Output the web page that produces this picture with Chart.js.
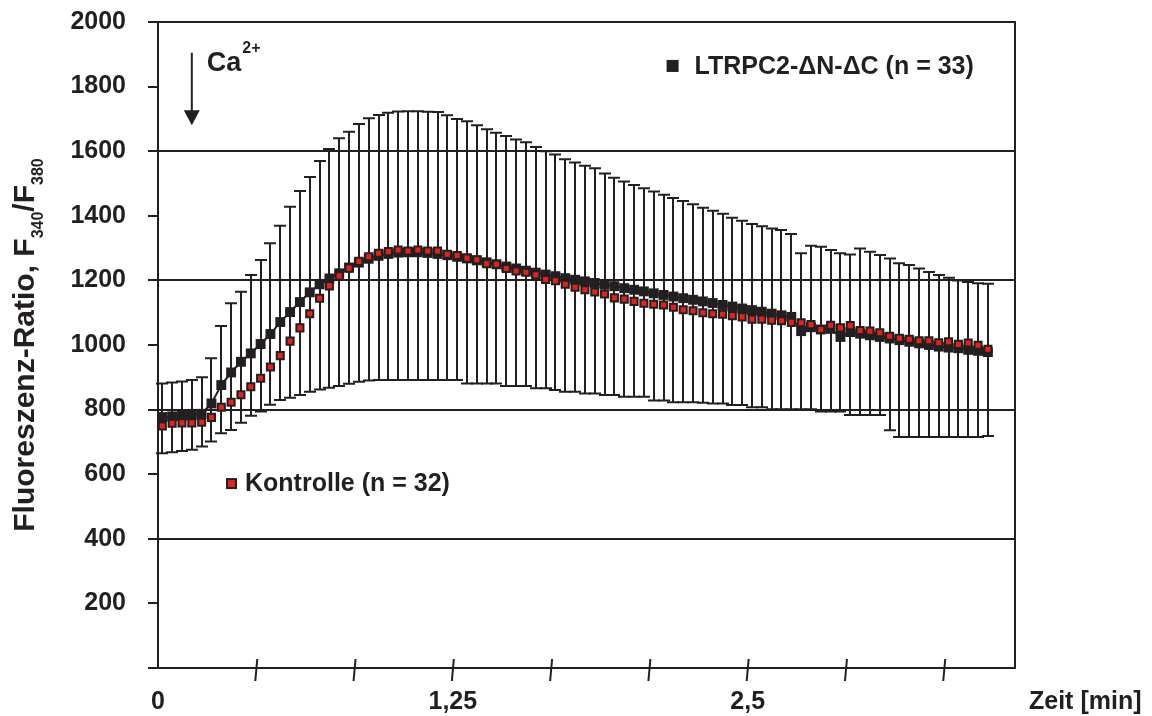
<!DOCTYPE html>
<html>
<head>
<meta charset="utf-8">
<script src="https://cdn.jsdelivr.net/npm/chart.js@4.4.0/dist/chart.umd.min.js"></script>
<style>
  html, body { margin: 0; padding: 0; background: #fff; }
  #chart { display: block; }
</style>
</head>
<body>
<canvas id="chart" width="1152" height="716"></canvas>
<script>
// Zeit in Sekunden (Achse wird in min beschriftet)
const zeit = [
  1.1, 3.6, 6.1, 8.6, 11.1, 13.6, 16.1, 18.6, 21.1, 23.6,
  26.1, 28.6, 31.1, 33.6, 36.1, 38.6, 41.1, 43.6, 46.1, 48.6,
  51.1, 53.6, 56.1, 58.6, 61.1, 63.6, 66.1, 68.6, 71.1, 73.6,
  76.1, 78.6, 81.1, 83.6, 86.1, 88.6, 91.1, 93.6, 96.1, 98.6,
  101.1, 103.6, 106.1, 108.6, 111.1, 113.6, 116.1, 118.6, 121.1, 123.6,
  126.1, 128.6, 131.1, 133.6, 136.1, 138.6, 141.1, 143.6, 146.1, 148.6,
  151.1, 153.6, 156.1, 158.6, 161.1, 163.6, 166.1, 168.6, 171.1, 173.6,
  176.1, 178.6, 181.1, 183.6, 186.1, 188.6, 191.1, 193.6, 196.1, 198.6,
  201.1, 203.6, 206.1, 208.6, 211.1
];

const kontrolle = [
  749, 758, 759, 759, 761, 776, 807, 823, 846, 871,
  897, 932, 967, 1012, 1053, 1097, 1145, 1183, 1214, 1238,
  1259, 1273, 1284, 1289, 1294, 1291, 1294, 1291, 1291, 1281,
  1277, 1269, 1264, 1252, 1250, 1237, 1229, 1225, 1217, 1203,
  1199, 1188, 1179, 1171, 1164, 1158, 1146, 1142, 1135, 1129,
  1126, 1124, 1117, 1109, 1106, 1100, 1097, 1095, 1091, 1087,
  1080, 1080, 1077, 1075, 1070, 1069, 1063, 1048, 1061, 1053,
  1060, 1045, 1043, 1038, 1027, 1021, 1018, 1013, 1013, 1007,
  1010, 1002, 1006, 999, 987
];

const ltrpc2 = [
  777, 779, 781, 783, 787, 819, 876, 915, 948, 974,
  1003, 1034, 1071, 1102, 1133, 1163, 1188, 1206, 1222, 1240,
  1255, 1267, 1276, 1282, 1286, 1287, 1287, 1285, 1282, 1278,
  1273, 1268, 1262, 1256, 1250, 1243, 1237, 1230, 1224, 1218,
  1213, 1207, 1202, 1197, 1192, 1187, 1182, 1176, 1171, 1166,
  1160, 1155, 1150, 1145, 1140, 1135, 1130, 1124, 1119, 1113,
  1108, 1103, 1097, 1092, 1087, 1043, 1055, 1048, 1050, 1025,
  1040, 1035, 1030, 1025, 1020, 1015, 1010, 1005, 1000, 995,
  992, 990, 985, 982, 978
];

// Enden der Fehlerbalken (LTRPC2)
const ltrpc2Oben = [
  881, 884, 887, 892, 900, 959, 1059, 1129, 1165, 1217,
  1263, 1315, 1369, 1428, 1477, 1520, 1570, 1607, 1640, 1660,
  1684, 1702, 1712, 1719, 1723, 1724, 1724, 1722, 1721, 1711,
  1700, 1693, 1680, 1668, 1657, 1647, 1636, 1628, 1613, 1600,
  1590, 1575, 1565, 1555, 1547, 1531, 1518, 1506, 1495, 1485,
  1475, 1465, 1455, 1446, 1436, 1425, 1416, 1406, 1394, 1385,
  1375, 1368, 1361, 1356, 1344, 1284, 1307, 1304, 1294, 1284,
  1280, 1299, 1289, 1279, 1268, 1253, 1248, 1237, 1226, 1217,
  1208, 1200, 1195, 1191, 1190
];
const ltrpc2Unten = [
  665, 668, 672, 676, 686, 701, 727, 737, 759, 781,
  794, 815, 830, 837, 845, 855, 862, 868, 873, 880,
  886, 890, 892, 892, 892, 892, 892, 892, 892, 892,
  892, 881, 881, 881, 881, 873, 873, 873, 866, 866,
  861, 855, 855, 850, 850, 845, 845, 840, 840, 840,
  828, 828, 823, 823, 823, 821, 819, 819, 814, 814,
  807, 807, 801, 801, 801, 801, 801, 794, 794, 794,
  783, 783, 783, 783, 736, 715, 715, 715, 715, 715,
  715, 715, 715, 715, 718
];

// Beschriftung der x-Ticks (alle 25 s)
const xTickLabels = ['0', '', '', '1,25', '', '', '2,5', '', ''];

const ink = '#231f20';
const rot = '#e3231b';
const schrift = '"Liberation Sans", Arial, Helvetica, sans-serif';

const rahmen = {
  id: 'rahmen',
  beforeDatasetsDraw(chart) {
    const {ctx, chartArea: a, scales: {x}} = chart;
    ctx.save();
    ctx.strokeStyle = ink;
    ctx.lineWidth = 2;
    // rechte Begrenzung
    ctx.beginPath();
    ctx.moveTo(a.right, a.top - 1);
    ctx.lineTo(a.right, a.bottom + 1);
    ctx.stroke();
    // x-Ticks, über die Achse hinweg
    x.ticks.forEach(t => {
      if (t.value === 0) return;
      const px = x.getPixelForValue(t.value);
      ctx.beginPath();
      ctx.moveTo(px + 1, a.bottom - 9);
      ctx.lineTo(px - 1, a.bottom + 13);
      ctx.stroke();
    });
    ctx.restore();
  }
};

const fehlerbalken = {
  id: 'fehlerbalken',
  beforeDatasetsDraw(chart) {
    const {ctx, scales: {x, y}} = chart;
    ctx.save();
    ctx.strokeStyle = ink;
    ctx.lineWidth = 2;
    zeit.forEach((t, i) => {
      const px = Math.round(x.getPixelForValue(t));
      const oben = y.getPixelForValue(ltrpc2Oben[i]);
      const unten = y.getPixelForValue(ltrpc2Unten[i]);
      ctx.beginPath();
      ctx.moveTo(px, oben);
      ctx.lineTo(px, unten);
      ctx.moveTo(px - 6, oben);
      ctx.lineTo(px + 6, oben);
      ctx.moveTo(px - 6, unten);
      ctx.lineTo(px + 6, unten);
      ctx.stroke();
    });
    ctx.restore();
  }
};

const texte = {
  id: 'texte',
  afterDraw(chart) {
    const {ctx, chartArea: a, scales: {x, y}} = chart;
    ctx.save();
    ctx.fillStyle = ink;
    ctx.strokeStyle = ink;

    // y-Achsentitel mit Indizes
    const teile = [
      {t: 'Fluoreszenz-Ratio, F', s: 30, dy: 0},
      {t: '340', s: 16, dy: 9},
      {t: '/F', s: 30, dy: 0},
      {t: '380', s: 16, dy: 9}
    ];
    let breite = 0;
    teile.forEach(p => {
      ctx.font = 'bold ' + p.s + 'px ' + schrift;
      p.w = ctx.measureText(p.t).width;
      breite += p.w;
    });
    ctx.translate(34, (a.top + a.bottom) / 2);
    ctx.rotate(-Math.PI / 2);
    ctx.textBaseline = 'alphabetic';
    let pos = -breite / 2;
    teile.forEach(p => {
      ctx.font = 'bold ' + p.s + 'px ' + schrift;
      ctx.fillText(p.t, pos, p.dy);
      pos += p.w;
    });
    ctx.setTransform(1, 0, 0, 1, 0, 0);

    // x-Achsentitel
    ctx.font = 'bold 25px ' + schrift;
    ctx.textBaseline = 'middle';
    ctx.fillText('Zeit [min]', a.right + 14, a.bottom + 34);

    // Ca2+ Pfeil
    const px = x.getPixelForValue(8.6);
    const oben = y.getPixelForValue(1905);
    const spitze = y.getPixelForValue(1680);
    ctx.lineWidth = 2;
    ctx.beginPath();
    ctx.moveTo(px, oben);
    ctx.lineTo(px, spitze - 12);
    ctx.stroke();
    ctx.beginPath();
    ctx.moveTo(px - 8, spitze - 15);
    ctx.lineTo(px + 8, spitze - 15);
    ctx.lineTo(px, spitze);
    ctx.closePath();
    ctx.fill();
    ctx.textBaseline = 'alphabetic';
    ctx.font = 'bold 27px ' + schrift;
    ctx.fillText('Ca', px + 15, oben + 18);
    const caB = ctx.measureText('Ca').width;
    ctx.font = 'bold 16px ' + schrift;
    ctx.fillText('2+', px + 16 + caB, oben);

    // Legende LTRPC2
    ctx.font = 'bold 25px ' + schrift;
    ctx.textBaseline = 'middle';
    const l1x = x.getPixelForValue(130.9), l1y = y.getPixelForValue(1864);
    ctx.fillRect(l1x - 6, l1y - 6, 12, 12);
    ctx.fillText('LTRPC2-\u0394N-\u0394C (n = 33)', l1x + 22, l1y + 1);

    // Legende Kontrolle
    const l2x = x.getPixelForValue(18.7), l2y = y.getPixelForValue(571);
    ctx.fillStyle = rot;
    ctx.fillRect(l2x - 4.5, l2y - 4.5, 9, 9);
    ctx.lineWidth = 2;
    ctx.strokeRect(l2x - 4.5, l2y - 4.5, 9, 9);
    ctx.fillStyle = ink;
    ctx.fillText('Kontrolle (n = 32)', l2x + 13.5, l2y + 1);
    ctx.restore();
  }
};

new Chart(document.getElementById('chart'), {
  type: 'scatter',
  data: {
    datasets: [
      {
        label: 'Kontrolle (n = 32)',
        data: zeit.map((t, i) => ({x: t, y: kontrolle[i]})),
        showLine: false,
        pointStyle: 'rect',
        pointRadius: 5,
        pointBackgroundColor: rot,
        pointBorderColor: ink,
        pointBorderWidth: 2,
        order: 1
      },
      {
        label: 'LTRPC2-\u0394N-\u0394C (n = 33)',
        data: zeit.map((t, i) => ({x: t, y: ltrpc2[i]})),
        showLine: true,
        borderColor: ink,
        borderWidth: 2,
        pointStyle: 'rect',
        pointRadius: 7,
        pointBackgroundColor: ink,
        pointBorderWidth: 0,
        order: 2
      }
    ]
  },
  options: {
    responsive: false,
    maintainAspectRatio: false,
    animation: false,
    devicePixelRatio: 1,
    layout: { padding: { top: 22, right: 137, left: 0, bottom: 0 } },
    plugins: {
      legend: { display: false },
      tooltip: { enabled: false }
    },
    scales: {
      x: {
        type: 'linear',
        min: 0,
        max: 218,
        ticks: {
          stepSize: 25,
          includeBounds: false,
          autoSkip: false,
          maxRotation: 0,
          padding: 19,
          color: ink,
          font: { family: schrift, size: 25, weight: 'bold' },
          callback: (v, i) => xTickLabels[i] ?? ''
        },
        grid: { display: false, drawTicks: false },
        border: { display: true, color: ink, width: 2 },
        afterFit: s => { s.height = 48; }
      },
      y: {
        min: 0,
        max: 2000,
        ticks: {
          stepSize: 200,
          padding: 22,
          color: ink,
          font: { family: schrift, size: 25, weight: 'bold' },
          callback: v => v === 0 ? '' : String(v)
        },
        grid: {
          color: c => (c.tick && c.tick.value > 0 && c.tick.value % 400 === 0) ? ink : 'rgba(0,0,0,0)',
          lineWidth: 2,
          tickColor: ink,
          tickLength: 10,
          tickWidth: 2
        },
        border: { display: true, color: ink, width: 2 },
        afterFit: s => {
          s.width = 158;
          s.paddingTop = 0;
          s.paddingBottom = 0;
        }
      }
    }
  },
  plugins: [rahmen, fehlerbalken, texte]
});
</script>
</body>
</html>
